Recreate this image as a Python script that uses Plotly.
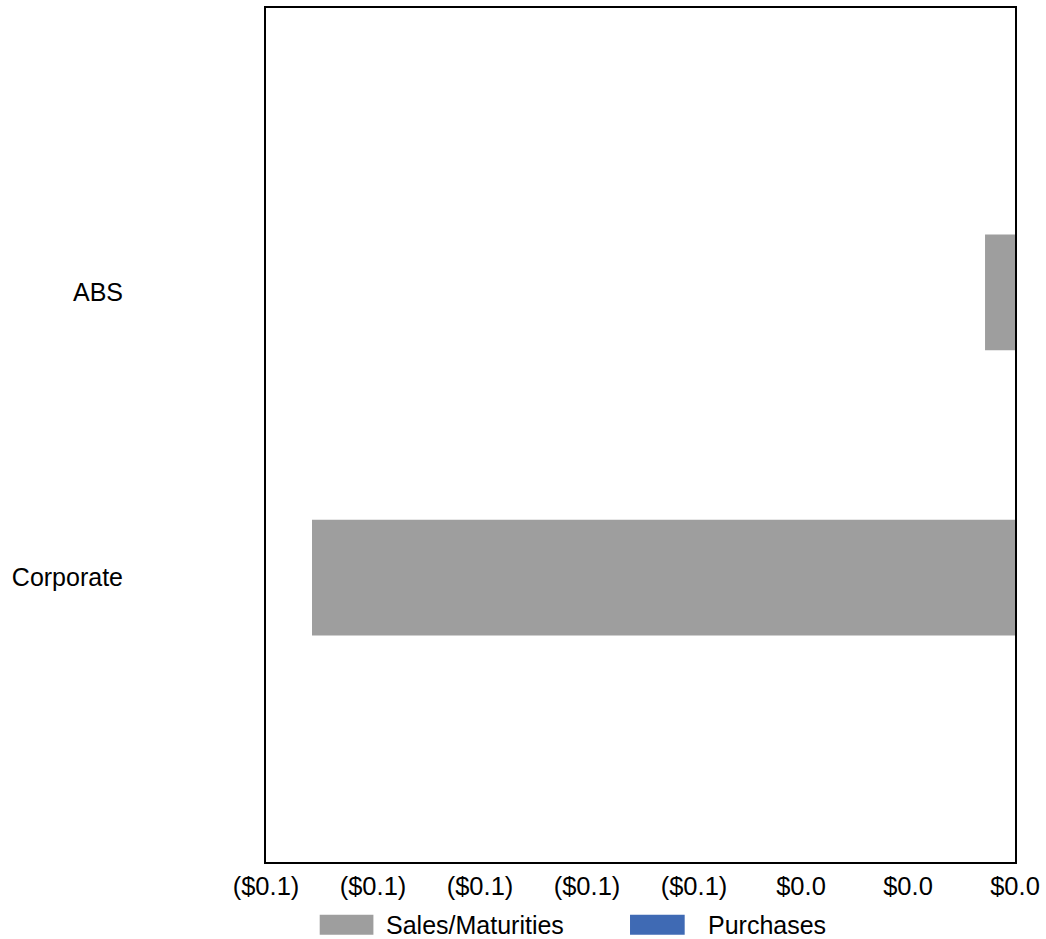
import plotly.graph_objects as go

categories = ["ABS", "Corporate"]
sales_maturities = [-0.0056, -0.1314]
purchases = [0.0, 0.0]
x_tick_values = [-0.14, -0.12, -0.10, -0.08, -0.06, -0.04, -0.02, 0.0]
series_names = ["Sales/Maturities", "Purchases"]
series_colors = ["#9E9E9E", "#3F6AB4"]


def fmt(v):
    r = round(abs(v), 1)
    if v < 0 and r > 0:
        return "(${:.1f})".format(r)
    return "${:.1f}".format(r)


tick_text = [fmt(v) for v in x_tick_values]

FONT = "Arial, Liberation Sans, sans-serif"

fig = go.Figure()
fig.add_trace(go.Bar(y=categories, x=sales_maturities, orientation="h",
                     name=series_names[0], marker_color=series_colors[0],
                     marker_line_width=0, width=0.406, showlegend=False))
fig.add_trace(go.Bar(y=categories, x=purchases, orientation="h",
                     name=series_names[1], marker_color=series_colors[1],
                     marker_line_width=0, width=0.406, showlegend=False))

fig.update_layout(
    width=1046, height=939,
    margin=dict(l=266, r=26, t=6, b=77),
    paper_bgcolor="white", plot_bgcolor="white",
    barmode="overlay",
    font=dict(family=FONT, size=25, color="black"),
    xaxis=dict(range=[-0.14, 0.0], tickvals=x_tick_values, ticktext=tick_text,
               showgrid=False, zeroline=False, showline=True, mirror=True,
               linecolor="black", linewidth=2, ticks="",
               tickfont=dict(family=FONT, size=25.5, color="black")),
    yaxis=dict(categoryorder="array", categoryarray=categories,
               range=[1.9965, -0.9965], showgrid=False, zeroline=False,
               showline=True, mirror=True, linecolor="black", linewidth=2,
               ticks="", ticklabelstandoff=136,
               tickfont=dict(family=FONT, size=25, color="black")),
)

# custom legend with wide swatches
legend_items = [
    (series_names[0], series_colors[0], 0.0717, 0.1434, 0.158),
    (series_names[1], series_colors[1], 0.486, 0.559, 0.587),
]
for name, color, x0, x1, tx in legend_items:
    fig.add_shape(type="rect", xref="paper", yref="paper", x0=x0, x1=x1,
                  y0=-0.0853, y1=-0.0619, fillcolor=color, line_width=0)
    fig.add_annotation(xref="paper", yref="paper", x=tx, y=-0.0736,
                       xanchor="left", yanchor="middle", text=name,
                       showarrow=False, font=dict(family=FONT, size=25, color="black"))

fig.write_html("out.html", config={"displayModeBar": False},
               post_script="document.body.style.margin='0';document.body.style.overflow='hidden';")
